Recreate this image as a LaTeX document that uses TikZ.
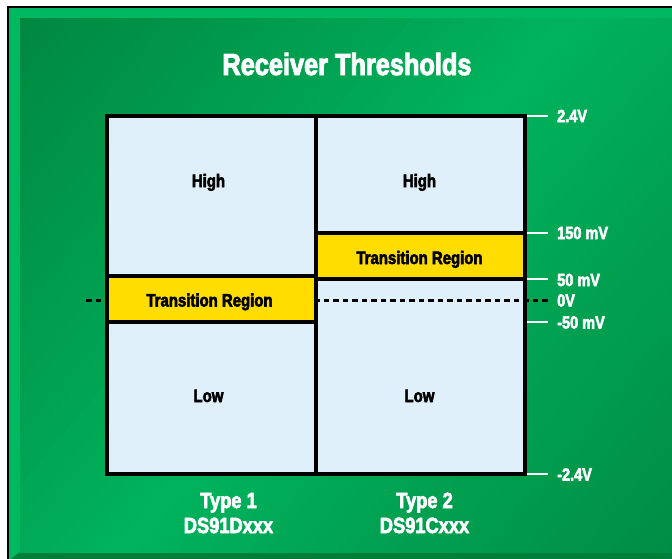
\documentclass[tikz,border=0pt]{standalone}
\usepackage{fontspec}
\setmainfont{Liberation Sans}[FakeStretch=0.83,
  BoldFont=Liberation Sans Bold, BoldFeatures={FakeBold=3}]

\definecolor{gdark}{RGB}{0,134,64}
\definecolor{glight}{RGB}{0,178,92}
\definecolor{gmid}{RGB}{0,140,66}
\definecolor{bevel}{RGB}{0,184,95}
\definecolor{bevelshadow}{RGB}{0,126,58}
\definecolor{cellblue}{RGB}{224,240,251}
\definecolor{transyellow}{RGB}{255,221,0}

\begin{document}
\begin{tikzpicture}[x=1pt,y=-1pt,
  every node/.style={inner sep=0pt},
  titletext/.style={font=\bfseries\fontsize{30.5}{36}\selectfont, text=white, anchor=base},
  celltext/.style={font=\bfseries\fontsize{18}{20}\selectfont, text=black, anchor=base},
  leveltext/.style={font=\bfseries\fontsize{17.5}{20}\selectfont, text=white, anchor=base west},
  typetext/.style={font=\bfseries\fontsize{22}{25}\selectfont, text=white, anchor=base},
  boxline/.style={line width=3.1pt, draw=black},
  tickline/.style={line width=2.8pt, draw=white},
  zeroline/.style={line width=2.6pt, dash pattern=on 5.5pt off 4pt, draw=black}]
\useasboundingbox (0,0) rectangle (672,558);
\fill[white] (0,0) rectangle (672,558);

% bevelled green panel
\fill[bevel] (8,7) rectangle (680,566);
\fill[bevelshadow] (12,558) -- (20,552) -- (680,552) -- (680,566) -- (8,566) -- cycle;
% diagonal colour sweep, built from narrow bands
\begin{scope}
  \clip (20,18) rectangle (680,552);
  \begin{scope}[shift={(346,285)}, rotate=-40]
    \foreach \i in {0,...,39} {
      \pgfmathsetmacro\pc{100-\i*100/39}
      \fill[gdark!\pc!glight] ({-440+\i*11},-460) rectangle ({-440+(\i+1)*11+0.8},460);
    }
    \foreach \i in {0,...,39} {
      \pgfmathsetmacro\pc{100-\i*100/39}
      \fill[glight!\pc!gmid] ({\i*11},-460) rectangle ({(\i+1)*11+0.8},460);
    }
  \end{scope}
\end{scope}
\draw[line width=1.3pt] (8,566) -- (8,7) -- (680,7);

% title
\node[titletext] (title) at (347,75) {Receiver Thresholds};

% threshold chart
\fill[cellblue] (107,116) rectangle (525,474);
\draw[zeroline] (86,300.5) -- (548,300.5);
\foreach \y in {116,233,279,322,474}
  \draw[tickline] (526,\y) -- (548,\y);
\filldraw[fill=transyellow, boxline] (107,276) rectangle (316,322);
\filldraw[fill=transyellow, boxline] (316,233) rectangle (525,279);
\draw[boxline] (107,116) rectangle (525,474);
\draw[boxline] (316,116) -- (316,474);

% region labels
\node[celltext] (high1) at (208.5,187) {High};
\node[celltext] (high2) at (419.5,187) {High};
\node[celltext] (trans1) at (209.5,306.5) {Transition Region};
\node[celltext] (trans2) at (419.5,264) {Transition Region};
\node[celltext] (low1) at (208.5,402) {Low};
\node[celltext] (low2) at (419.5,402) {Low};

% voltage levels
\node[leveltext] (v24) at (557,122) {2.4V};
\node[leveltext] (v150) at (557,239) {150 mV};
\node[leveltext] (v50) at (557,286) {50 mV};
\node[leveltext] (v0) at (557,306.5) {0V};
\node[leveltext] (vm50) at (557,328.5) {-50 mV};
\node[leveltext] (vm24) at (557,480.5) {-2.4V};

% receiver types
\node[typetext] (type1) at (228.5,508) {Type 1};
\node[typetext] (part1) at (228.5,533) {DS91Dxxx};
\node[typetext] (type2) at (424.5,508) {Type 2};
\node[typetext] (part2) at (424.5,533) {DS91Cxxx};
\end{tikzpicture}
\end{document}
